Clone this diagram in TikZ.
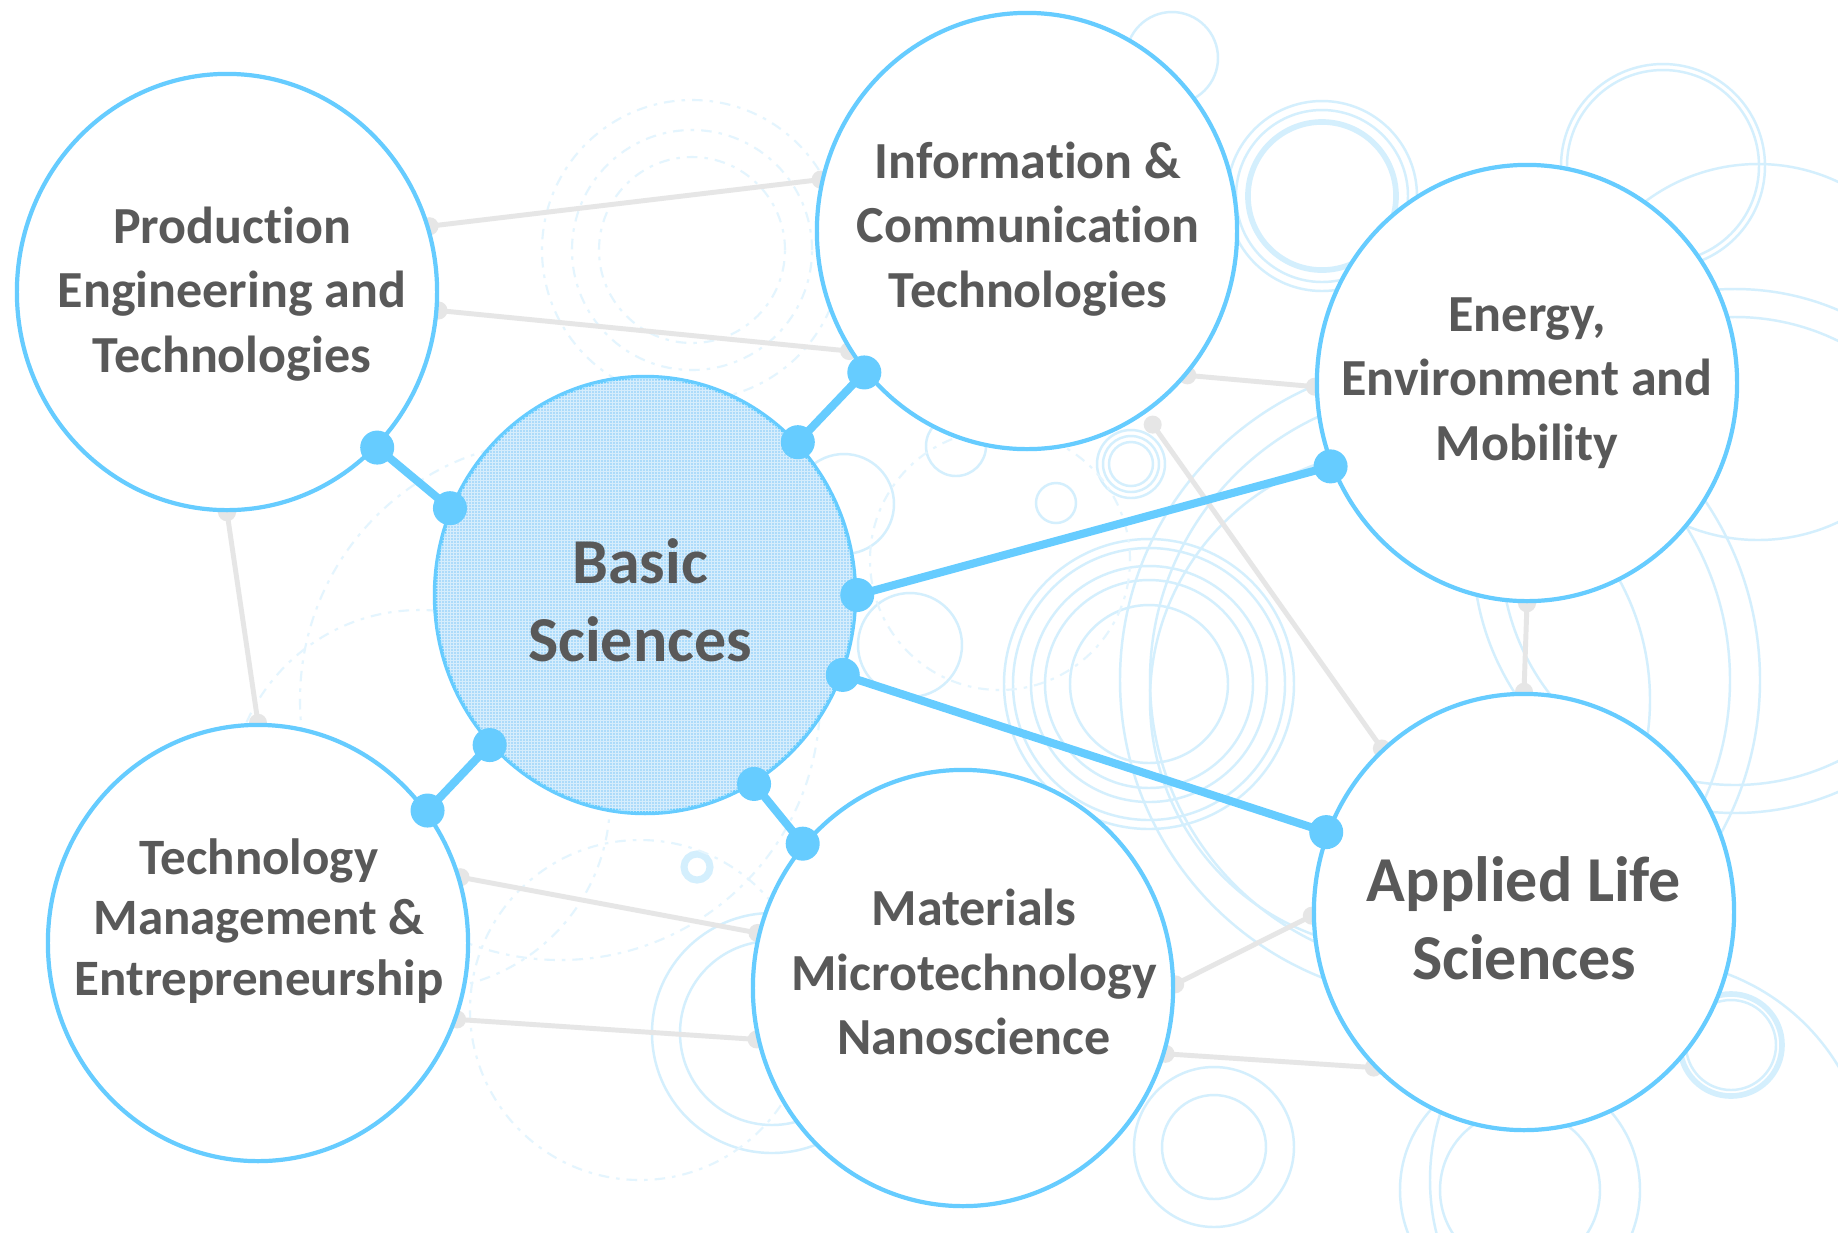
\documentclass[tikz,border=0pt]{standalone}
\usepackage{fontspec}
\setmainfont{Carlito}[Ligatures=NoCommon]
\usetikzlibrary{shapes.geometric,calc}
\definecolor{blueC}{RGB}{102,204,255}
\definecolor{textC}{RGB}{89,89,89}
\definecolor{grayL}{RGB}{230,230,230}
\definecolor{bgC}{RGB}{212,239,253}
\definecolor{bgF}{RGB}{228,245,254}
\definecolor{basicF}{RGB}{165,216,250}
\pgfdeclarelayer{bg}
\pgfsetlayers{bg,main}
\begin{document}
\begin{tikzpicture}[x=0.01cm,y=-0.01cm,
 bub/.style={ellipse,draw=blueC,line width=1.2pt,fill=white,minimum width=4.2cm,minimum height=4.36cm,inner sep=0pt},
 lbl/.style={text=textC,align=center,inner sep=0pt,font=\bfseries\fontsize{14.8}{18.4}\selectfont},
 biglbl/.style={text=textC,align=center,inner sep=0pt,font=\bfseries\fontsize{18.2}{22.2}\selectfont},
 link/.style={draw=blueC,line width=2.3pt},
 bdot/.style={fill=blueC},
 glink/.style={draw=grayL,line width=1.4pt},
 gdot/.style={fill=grayL},
 bgring/.style={draw=bgC,line width=0.7pt},
 bgfaint/.style={draw=bgF,line width=0.6pt,dash pattern=on 3pt off 2pt on 1pt off 2pt},
]
\useasboundingbox (0,0) rectangle (1838,1232);

% circles
\node[bub] (prod) at (227,292) {};
\node[bub] (info) at (1027,231) {};
\node[bub] (energy) at (1527,383) {};
\node[bub] (tech) at (258,943) {};
\node[bub] (mat) at (963,988) {};
\node[bub] (appl) at (1524,912) {};
\node[bub,fill=basicF,fill opacity=0.9] (basic) at (645,595) {};
\begin{scope}
  \clip (645,595) ellipse[x radius=2.09cm,y radius=2.17cm];
  \draw[white,line width=0.3pt,opacity=0.5,step=0.03cm] (420,370) grid (870,820);
\end{scope}

% labels
\node[lbl] (prodT) at (232,294) {Production\\Engineering and\\Technologies};
\node[lbl] (infoT) at (1028,229) {Information \&\\Communication\\Technologies};
\node[lbl] (energyT) at (1527,383) {Energy,\\Environment and\\Mobility};
\node[lbl,font=\bfseries\fontsize{14.5}{17.1}\selectfont] (techT) at (259,921) {Technology\\Management \&\\Entrepreneurship};
\node[lbl] (matT) at (974,972) {Materials\\Microtechnology\\Nanoscience};
\node[biglbl] (applT) at (1524,918) {Applied Life\\Sciences};
\node[biglbl] (basicT) at (640,600) {Basic\\Sciences};

% background decoration and grey links
\begin{pgfonlayer}{bg}
\fill[white] (0,0) rectangle (1838,1232);
\foreach \cx/\cy/\r in {1322/196/86,1322/196/95,1172/58/46,1663/166/102,1663/166/96,
  1758/352/188,1735/551/234,1735/551/262,1149/684/79,1149/684/104,1149/684/118,
  1149/684/136,1149/684/145,1440/680/290,1440/680/320,1400/700/250,1131/464/22,
  1131/464/28,1131/464/34,1056/503/20,956/446/30,910/645/52,844/504/50,1731/1045/45,
  1214/1147/52,1214/1147/80,1520/1190/80,1520/1190/120,772/1033/92,772/1033/120,
  1650/1180/220}
  \draw[bgring] (\cx,\cy) circle[radius={\r*0.01cm}];
\draw[bgring,line width=1.6pt] (1322,196) circle[radius=0.74cm];
\draw[bgring,line width=1.6pt] (1731,1045) circle[radius=0.51cm];
\draw[bgring,line width=2pt] (697,867) circle[radius=0.13cm];
\foreach \cx/\cy/\r in {692/250/93,692/250/120,692/250/150,420/800/190,640/1010/170,
  560/700/260,1000/560/130}
  \draw[bgfaint] (\cx,\cy) circle[radius={\r*0.01cm}];

\coordinate (g4) at ($(info.center)!1.06!(info.-57.1)$);
\draw[glink] (prod.18.2) -- (info.166.2);
\draw[glink] (prod.-5.9) -- (info.-146.4);
\draw[glink] (info.-42.2) -- (energy.181.6);
\draw[glink] (g4) -- (appl.131.9);
\draw[glink] (energy.-90) -- (appl.90);
\draw[glink] (prod.-90) -- (tech.90.5);
\draw[glink] (tech.18.1) -- (mat.165);
\draw[glink] (tech.-21.9) -- (mat.-166);
\draw[glink] (mat.1.8) -- (appl.181.8);
\draw[glink] (mat.-18.8) -- (appl.-134.8);
\foreach \p in {prod.18.2,info.166.2,prod.-5.9,info.-146.4,info.-42.2,energy.181.6,g4,
  appl.131.9,energy.-90,appl.90,prod.-90,tech.90.5,tech.18.1,mat.165,tech.-21.9,mat.-166,
  mat.1.8,appl.181.8,mat.-18.8,appl.-134.8}
  \fill[gdot] (\p) circle[radius=0.09cm];
\end{pgfonlayer}

% blue links from Basic Sciences
\draw[link] (basic.156.8) -- (prod.-46.1);
\draw[link] (basic.45.9) -- (info.-139.7);
\draw[link] (basic.0.3) -- (energy.-157.8);
\draw[link] (basic.-22.4) -- (appl.158.5);
\draw[link] (basic.-60.6) -- (mat.138.8);
\draw[link] (basic.-136.3) -- (tech.38.8);
\foreach \p in {basic.156.8,prod.-46.1,basic.45.9,info.-139.7,basic.0.3,energy.-157.8,
  basic.-22.4,appl.158.5,basic.-60.6,mat.138.8,basic.-136.3,tech.38.8}
  \fill[bdot] (\p) circle[radius=0.17cm];
\end{tikzpicture}
\end{document}
